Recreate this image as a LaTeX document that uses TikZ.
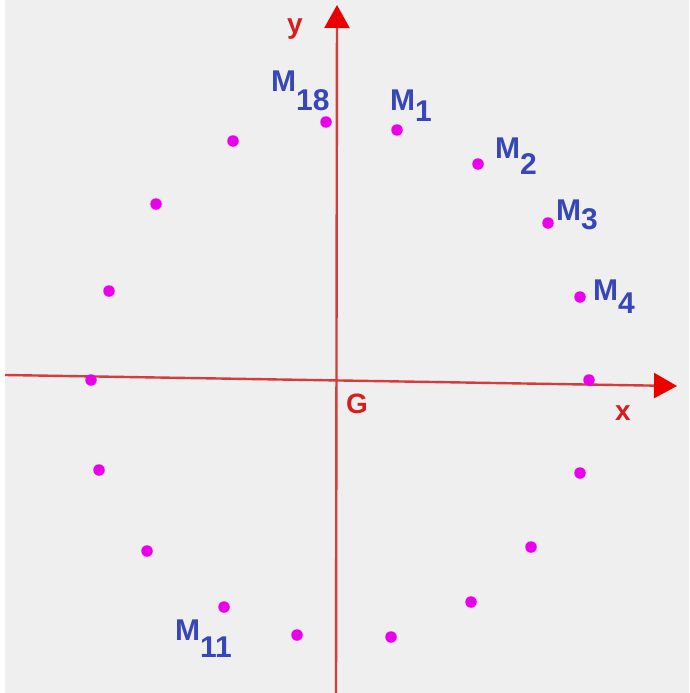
\documentclass[tikz,border=0pt]{standalone}
\usepackage{fontspec}
\setmainfont{Liberation Sans}
\usetikzlibrary{arrows.meta}
\definecolor{bg}{RGB}{239,239,239}
\definecolor{axline}{RGB}{215,60,60}
\definecolor{axhead}{RGB}{235,0,0}
\definecolor{axtext}{RGB}{215,30,30}
\definecolor{pt}{RGB}{235,0,235}
\definecolor{lab}{RGB}{55,70,185}
\newcommand\mlab[2]{M\lower#1pt\hbox{#2}}
\tikzset{
  dotm/.style={circle,fill=pt,inner sep=0pt,minimum size=11.5pt},
  mtext/.style={text=lab,font=\fontsize{30}{30}\selectfont\bfseries,anchor=base west,inner sep=0pt},
  axtxt/.style={text=axtext,font=\fontsize{28}{28}\selectfont\bfseries,inner sep=0pt},
  axis/.style={draw=axline,line width=2.4pt,-{Triangle[length=23pt,width=25pt,color=axhead]}}
}
\begin{document}
\begin{tikzpicture}[x=1pt,y=-1pt]
\fill[bg] (0,0) rectangle (689,693);
\fill[white] (0,0) rectangle (5,693);
\useasboundingbox (0,0) rectangle (689,693);
% axes
\coordinate (xs) at (5,375);
\coordinate (xe) at (677,386);
\coordinate (ys) at (336,693);
\coordinate (ye) at (337,5);
\draw[axis] (xs) -- (xe);
\draw[axis] (ys) -- (ye);
\node[axtxt] (ylab) at (295,29) {y};
\node[axtxt] (xlab) at (623,413) {x};
\node[axtxt] (G) at (357,404) {G};
% points
\node[dotm] (p1) at (397,130) {};
\node[dotm] (p2) at (478,164) {};
\node[dotm] (p3) at (548,223) {};
\node[dotm] (p4) at (580,297) {};
\node[dotm] (p5) at (589,380) {};
\node[dotm] (p6) at (580,473) {};
\node[dotm] (p7) at (531,547) {};
\node[dotm] (p8) at (471,602) {};
\node[dotm] (p9) at (391,637) {};
\node[dotm] (p10) at (297,635) {};
\node[dotm] (p11) at (224,607) {};
\node[dotm] (p12) at (147,551) {};
\node[dotm] (p13) at (99,470) {};
\node[dotm] (p14) at (91,380) {};
\node[dotm] (p15) at (109,291) {};
\node[dotm] (p16) at (156,204) {};
\node[dotm] (p17) at (233,141) {};
\node[dotm] (p18) at (326,122) {};
% labels
\node[mtext] (l1) at (390,110) {\mlab{12}{1}};
\node[mtext] (l2) at (495,158) {\mlab{16}{2}};
\node[mtext] (l3) at (556,220) {\mlab{9}{3}};
\node[mtext] (l4) at (593,300) {\mlab{13}{4}};
\node[mtext] (l11) at (175,640) {\mlab{17}{11}};
\node[mtext] (l18) at (271,92) {\mlab{18}{18}};
\end{tikzpicture}
\end{document}
